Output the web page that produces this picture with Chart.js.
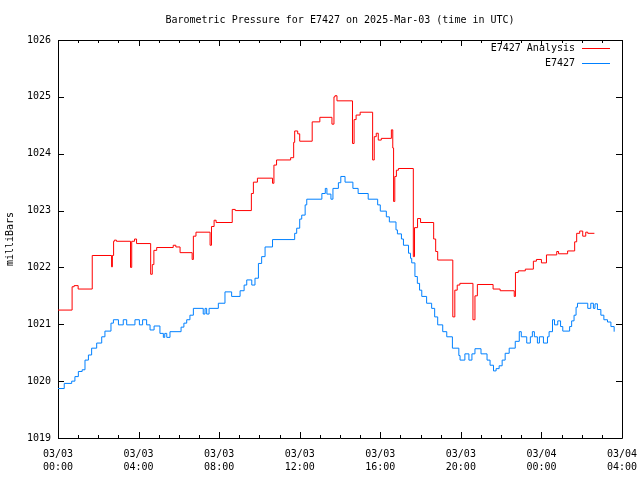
<!DOCTYPE html>
<html>
<head>
<meta charset="utf-8">
<script src="https://cdn.jsdelivr.net/npm/chart.js@4/dist/chart.umd.min.js"></script>
<style>
  html, body { margin: 0; padding: 0; background: #fff; }
  #wrap { width: 640px; height: 480px; }
</style>
</head>
<body>
<div id="wrap"><canvas id="pressure_chart" width="640" height="480"></canvas></div>
<script>
// hours since 03/03 00:00 UTC, value in milliBars (change points)
const analysisHours = [0, 0.7, 0.8, 1.0, 1.7, 2.66, 2.7, 2.76, 2.8, 2.9, 3.6, 3.66, 3.8, 3.9, 4.6, 4.68, 4.76, 4.9,
  5.72, 5.85, 6.06, 6.66, 6.72, 6.85, 7.55, 7.62, 7.75, 7.85, 8.65, 8.8, 9.6, 9.7, 9.9, 10.65, 10.72, 10.85,
  11.55, 11.7, 11.75, 11.9, 12.0, 12.62, 13.0, 13.6, 13.7, 13.75, 13.85, 14.62, 14.7, 14.8, 15.0, 15.62, 15.7,
  15.8, 15.9, 16.05, 16.55, 16.62, 16.66, 16.72, 16.8, 16.9, 17.64, 17.7, 17.85, 18.0, 18.65, 18.75, 18.85,
  19.6, 19.7, 19.82, 19.95, 20.6, 20.7, 20.82, 21.6, 21.95, 22.65, 22.71, 22.85, 23.2, 23.6, 23.75, 24.0,
  24.25, 24.76, 24.85, 25.3, 25.65, 25.75, 25.9, 26.05, 26.2, 26.3, 26.63];
const analysisValues = [1021.25, 1021.66, 1021.68, 1021.62, 1022.21, 1022.01, 1022.21, 1022.46, 1022.48, 1022.46,
  1022.0, 1022.46, 1022.5, 1022.42, 1021.88, 1022.05, 1022.3, 1022.35, 1022.39, 1022.36, 1022.26, 1022.14,
  1022.55, 1022.62, 1022.39, 1022.72, 1022.83, 1022.79, 1023.02, 1023.0, 1023.3, 1023.5, 1023.57, 1023.48,
  1023.8, 1023.89, 1023.93, 1024.2, 1024.4, 1024.35, 1024.22, 1024.56, 1024.64, 1024.52, 1025.0, 1025.02,
  1024.93, 1024.18, 1024.6, 1024.68, 1024.73, 1023.89, 1024.3, 1024.36, 1024.24, 1024.27, 1024.42, 1024.1,
  1023.16, 1023.6, 1023.71, 1023.74, 1022.19, 1022.7, 1022.86, 1022.79, 1022.5, 1022.28, 1022.13, 1021.13,
  1021.6, 1021.69, 1021.72, 1021.08, 1021.5, 1021.7, 1021.62, 1021.59, 1021.49, 1021.91, 1021.94, 1021.97,
  1022.11, 1022.14, 1022.08, 1022.22, 1022.28, 1022.24, 1022.29, 1022.45, 1022.6, 1022.64, 1022.55, 1022.62,
  1022.6, 1022.6];

const obsHours = [0, 0.31, 0.68, 0.84, 1.01, 1.2, 1.34, 1.51, 1.67, 1.92, 2.17, 2.33, 2.63, 2.75, 3.0, 3.24, 3.41,
  3.82, 4.04, 4.2, 4.4, 4.57, 4.77, 5.06, 5.23, 5.3, 5.4, 5.56, 6.11, 6.25, 6.39, 6.55, 6.72, 7.21, 7.3, 7.38,
  7.5, 7.96, 8.29, 8.62, 9.04, 9.24, 9.37, 9.62, 9.78, 9.95, 10.11, 10.28, 10.65, 11.75, 11.85, 12.0, 12.1,
  12.27, 12.35, 13.1, 13.27, 13.35, 13.55, 13.65, 13.92, 14.04, 14.25, 14.64, 14.9, 15.4, 15.87, 16.0, 16.3,
  16.45, 16.78, 16.85, 17.05, 17.15, 17.4, 17.5, 17.56, 17.72, 17.84, 17.95, 18.06, 18.3, 18.55, 18.7, 18.85,
  19.1, 19.3, 19.58, 19.9, 19.96, 20.2, 20.4, 20.55, 20.7, 21.0, 21.3, 21.45, 21.62, 21.75, 21.9, 22.05, 22.2,
  22.4, 22.7, 22.9, 23.0, 23.27, 23.45, 23.55, 23.65, 23.8, 23.9, 24.1, 24.3, 24.38, 24.55, 24.65, 24.81,
  24.95, 25.06, 25.4, 25.5, 25.62, 25.72, 25.79, 26.3, 26.45, 26.58, 26.66, 26.78, 26.95, 27.1, 27.28, 27.45,
  27.61];
const obsValues = [1019.87, 1019.96, 1020.0, 1020.08, 1020.17, 1020.2, 1020.37, 1020.46, 1020.58, 1020.67, 1020.78,
  1020.88, 1021.02, 1021.08, 1020.99, 1021.08, 1020.99, 1021.08, 1020.99, 1021.08, 1020.99, 1020.9, 1020.97,
  1020.84, 1020.77, 1020.84, 1020.77, 1020.87, 1020.95, 1021.02, 1021.08, 1021.16, 1021.28, 1021.18, 1021.28,
  1021.18, 1021.28, 1021.37, 1021.57, 1021.49, 1021.59, 1021.69, 1021.78, 1021.69, 1021.81, 1022.07, 1022.19,
  1022.36, 1022.49, 1022.6, 1022.69, 1022.85, 1022.92, 1023.1, 1023.2, 1023.3, 1023.39, 1023.29, 1023.2,
  1023.39, 1023.49, 1023.6, 1023.5, 1023.39, 1023.3, 1023.2, 1023.1, 1022.99, 1022.89, 1022.8, 1022.66,
  1022.59, 1022.5, 1022.39, 1022.25, 1022.16, 1022.08, 1021.84, 1021.72, 1021.6, 1021.49, 1021.37, 1021.28,
  1021.13, 1020.99, 1020.87, 1020.78, 1020.58, 1020.45, 1020.37, 1020.48, 1020.37, 1020.48, 1020.57, 1020.48,
  1020.37, 1020.28, 1020.18, 1020.22, 1020.27, 1020.37, 1020.49, 1020.58, 1020.7, 1020.87, 1020.78, 1020.67,
  1020.78, 1020.87, 1020.78, 1020.67, 1020.78, 1020.67, 1020.78, 1020.87, 1021.08, 1020.99, 1021.06, 1020.96,
  1020.88, 1020.96, 1021.06, 1021.16, 1021.3, 1021.37, 1021.28, 1021.37, 1021.28, 1021.36, 1021.26, 1021.16,
  1021.08, 1021.04, 1020.96, 1020.87];

const startDay = 3;
const seriesNames = ["E7427 Analysis", "E7427"];
const seriesColors = ["#ff0000", "#0080ff"];
const FONT = "'DejaVu Sans Mono', 'Liberation Mono', monospace";

function toPoints(hours, values) {
  let pts = [];
  for (let i = 0; i < hours.length; i++) {
    pts.push({ x: hours[i], y: values[i] });
  }
  return pts;
}

function pad(n) {
  return (n < 10 ? "0" : "") + n;
}

// gnuplot-like frame, inward ticks and legend
const framePlugin = {
  id: "frame",
  beforeDatasetsDraw(chart) {
    const ctx = chart.ctx;
    const a = chart.chartArea;
    const xs = chart.scales.x;
    const ys = chart.scales.y;
    ctx.save();
    ctx.strokeStyle = "#000";
    ctx.lineWidth = 1;
    ctx.beginPath();
    ctx.rect(Math.round(a.left) + 0.5, Math.round(a.top) + 0.5,
      Math.round(a.right - a.left), Math.round(a.bottom - a.top));
    for (let h = 0; h <= 28; h++) {
      const px = Math.round(xs.getPixelForValue(h)) + 0.5;
      const len = h % 4 === 0 ? 6 : 3;
      ctx.moveTo(px, a.bottom);
      ctx.lineTo(px, a.bottom - len);
      ctx.moveTo(px, a.top);
      ctx.lineTo(px, a.top + len);
    }
    for (let v = 1019; v <= 1026; v++) {
      const py = Math.round(ys.getPixelForValue(v)) + 0.5;
      ctx.moveTo(a.left, py);
      ctx.lineTo(a.left + 6, py);
      ctx.moveTo(a.right, py);
      ctx.lineTo(a.right - 6, py);
    }
    ctx.stroke();
    ctx.restore();
  },
  afterDraw(chart) {
    const ctx = chart.ctx;
    const a = chart.chartArea;
    ctx.save();
    ctx.font = "10px " + FONT;
    ctx.textAlign = "right";
    ctx.textBaseline = "middle";
    for (let i = 0; i < seriesNames.length; i++) {
      const y = a.top + 8.5 + i * 15;
      ctx.fillStyle = "#000";
      ctx.fillText(seriesNames[i], a.right - 47, y);
      ctx.strokeStyle = seriesColors[i];
      ctx.lineWidth = 1;
      ctx.beginPath();
      ctx.moveTo(a.right - 40, y);
      ctx.lineTo(a.right - 12, y);
      ctx.stroke();
    }
    ctx.restore();
  },
};

let pressure_chart = document.getElementById("pressure_chart");
let pressureChart = new Chart(pressure_chart, {
  type: "line",
  data: {
    datasets: [
      {
        label: seriesNames[0],
        data: toPoints(analysisHours, analysisValues),
        borderColor: seriesColors[0],
        backgroundColor: seriesColors[0],
        borderWidth: 1,
        pointRadius: 0,
        stepped: true,
      },
      {
        label: seriesNames[1],
        data: toPoints(obsHours, obsValues),
        borderColor: seriesColors[1],
        backgroundColor: seriesColors[1],
        borderWidth: 1,
        pointRadius: 0,
        stepped: true,
      },
    ],
  },
  plugins: [framePlugin],
  options: {
    responsive: false,
    animation: false,
    layout: { padding: { left: 0, right: 18, top: 0, bottom: 0 } },
    plugins: {
      legend: { display: false },
      tooltip: { enabled: false },
      title: {
        display: true,
        fullSize: false,
        text: "Barometric Pressure for E7427 on 2025-Mar-03 (time in UTC)",
        color: "#000",
        font: { family: FONT, size: 10, weight: "normal", lineHeight: 1.2 },
        padding: { top: 14, bottom: 14 },
      },
    },
    scales: {
      x: {
        type: "linear",
        min: 0,
        max: 28,
        grid: { display: false, drawTicks: false },
        border: { display: false },
        afterFit: (scale) => {
          scale.height = 42;
          scale.paddingLeft = 0;
          scale.paddingRight = 0;
        },
        ticks: {
          stepSize: 4,
          autoSkip: false,
          maxRotation: 0,
          padding: 10,
          color: "#000",
          font: { family: FONT, size: 10, lineHeight: 1.3 },
          callback: (v) => {
            const day = startDay + Math.floor(v / 24);
            return ["03/" + pad(day), pad(v % 24) + ":00"];
          },
        },
      },
      y: {
        min: 1019,
        max: 1026,
        grid: { display: false, drawTicks: false },
        border: { display: false },
        afterFit: (scale) => { scale.width = 58; },
        title: {
          display: true,
          text: "milliBars",
          color: "#000",
          font: { family: FONT, size: 10, lineHeight: 1.2 },
          padding: { top: 4, bottom: 0 },
        },
        ticks: {
          stepSize: 1,
          padding: 7,
          color: "#000",
          font: { family: FONT, size: 10 },
          callback: (v) => String(v),
        },
      },
    },
  },
});
</script>
</body>
</html>
